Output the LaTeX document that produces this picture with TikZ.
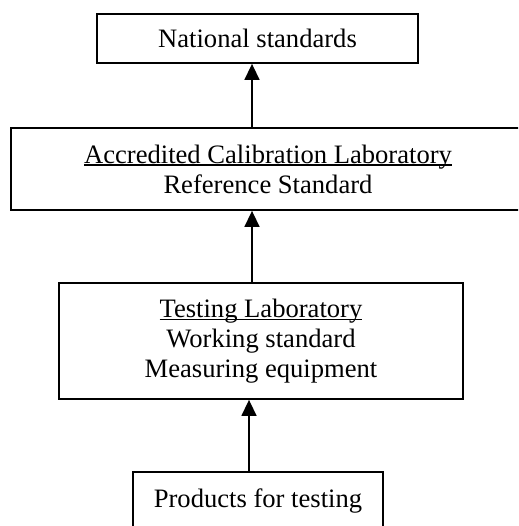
\documentclass[tikz,border=0pt]{standalone}
\usepackage{fontspec}
\setmainfont{Liberation Serif}
\usetikzlibrary{arrows.meta}
\newcommand\myul[1]{\setbox0\hbox{#1}\rlap{\rule[-2.5pt]{\wd0}{1.3pt}}\box0}
\begin{document}
\begin{tikzpicture}[x=1pt,y=1pt,
  box/.style={draw=black,line width=1.8pt,rectangle,align=center,inner sep=0pt,
    font=\fontsize{26.6}{30}\selectfont},
  link/.style={line width=1.5pt,-{Triangle[length=16pt,width=15pt]}}]
\useasboundingbox (0,0) rectangle (518,-526);
\clip (0,0) rectangle (518,-526);
\coordinate (axa) at (252,0);
\coordinate (axb) at (249,0);
\node[box,minimum width=321,minimum height=49] (nat) at (257.5,-38.5) {National standards};
\node[box,minimum width=514,minimum height=82] (acl) at (268,-169) {\myul{Accredited Calibration Laboratory}\\Reference Standard};
\node[box,minimum width=404,minimum height=116] (tl) at (261,-341) {\myul{Testing Laboratory}\\Working standard\\Measuring equipment};
\node[box,minimum width=250,minimum height=58] (prod) at (258,-501) {Products for testing};
\draw[link] (acl.north -| axa) -- (nat.south -| axa);
\draw[link] (tl.north -| axa) -- (acl.south -| axa);
\draw[link] (prod.north -| axb) -- (tl.south -| axb);
\end{tikzpicture}
\end{document}
